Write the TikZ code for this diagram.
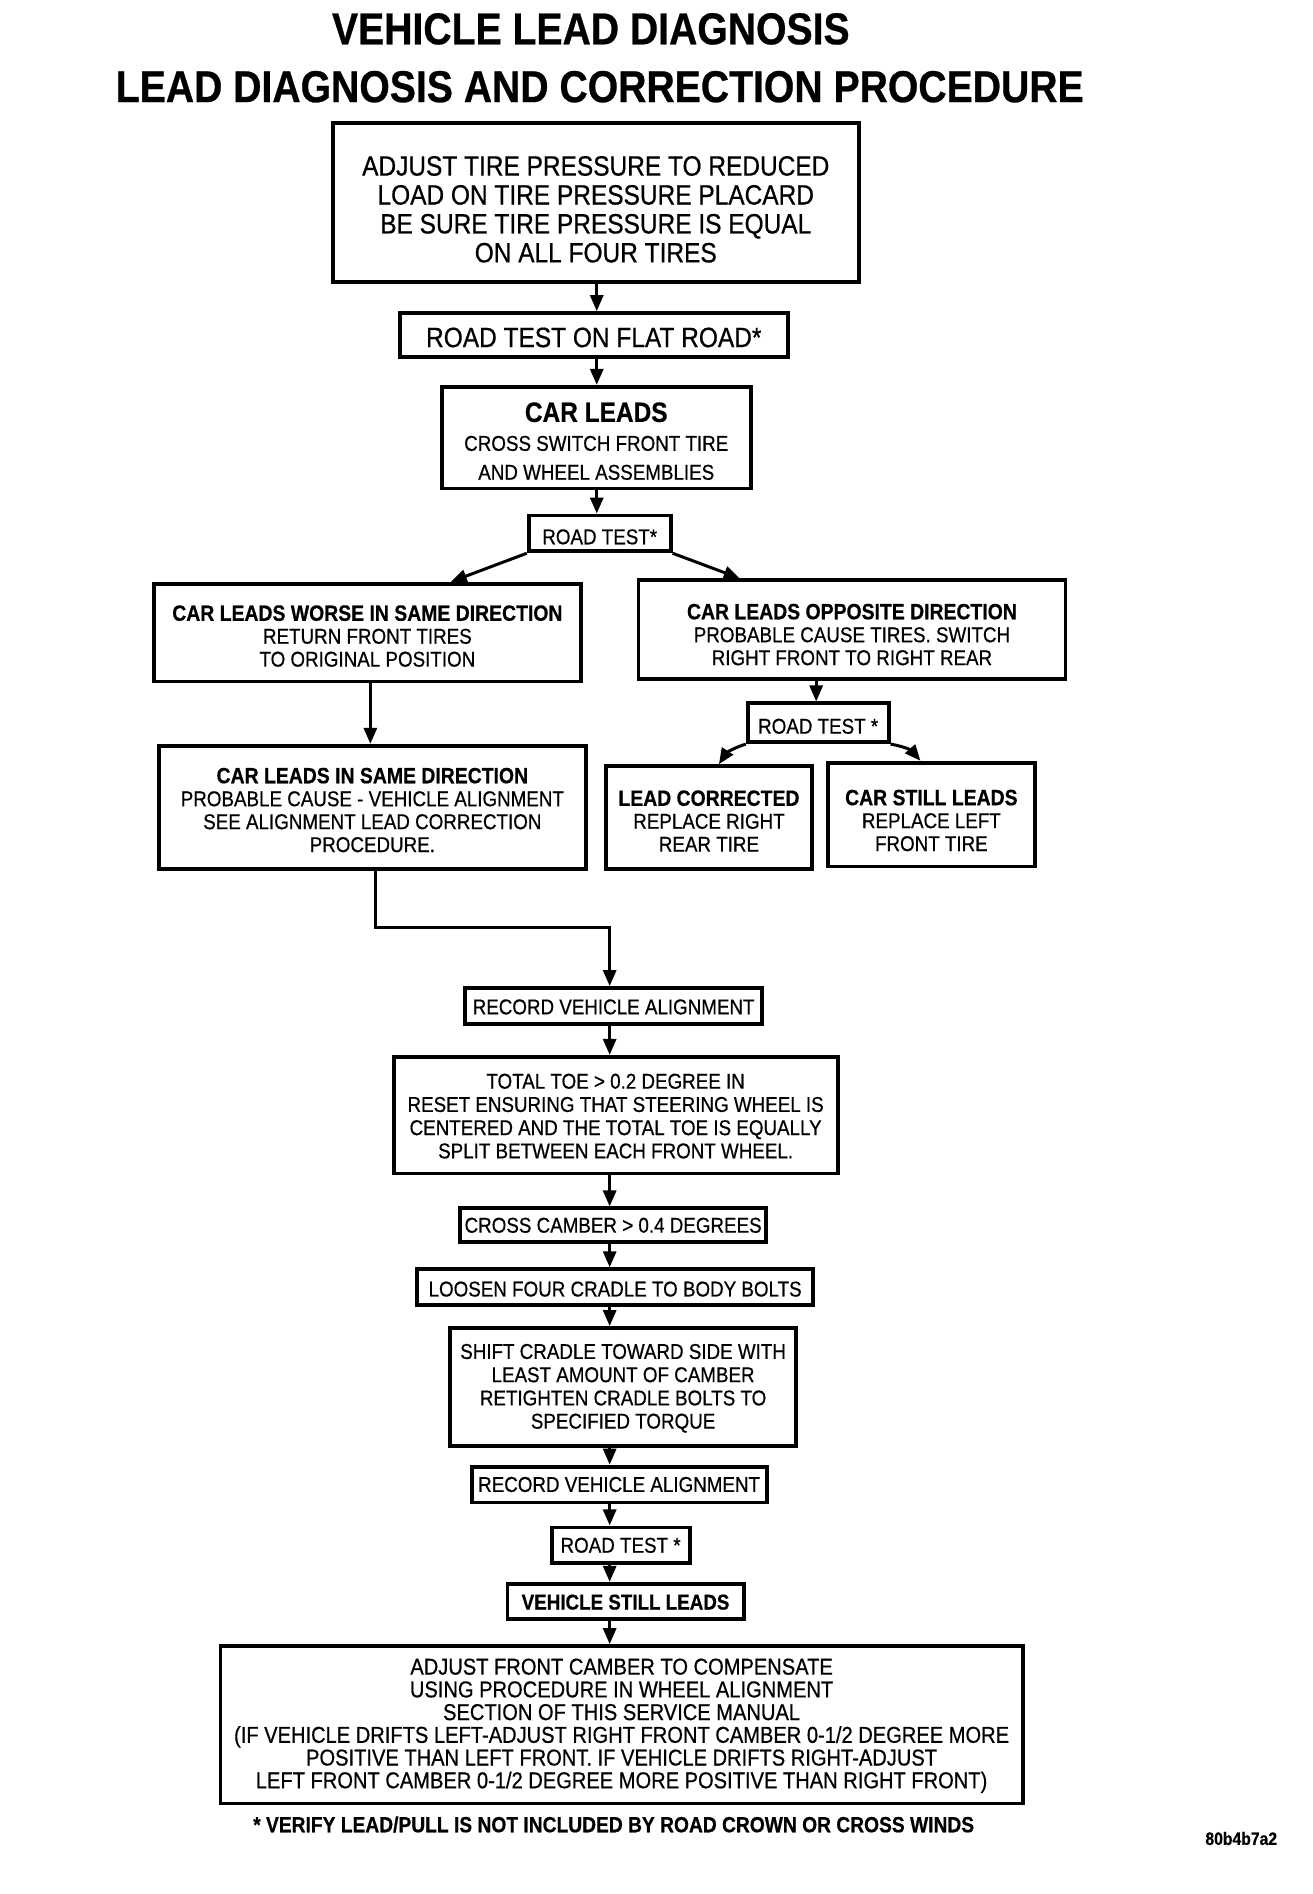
\documentclass[tikz,border=0pt]{standalone}
\usepackage{fontspec}
\setmainfont{Liberation Sans}[FakeStretch=0.88,
  UprightFeatures={FakeBold=0.6}, BoldFeatures={FakeBold=0.6}]
\usetikzlibrary{arrows.meta}
\newcommand\bl[1]{{\fontsize{22.2}{23}\selectfont\bfseries #1}}
\newcommand\flowbox[7]{%
  \node[box, minimum width=#3pt, minimum height=#4pt] (#1) at (#2) {};
  \node[boxtxt, #5] (#1t) at ([yshift=-#6pt]#1.center) {#7};}
\begin{document}
\begin{tikzpicture}[x=1pt,y=-1pt,xscale=0.993,yscale=0.997,transform shape,
  box/.style={draw, line width=3.8pt, inner sep=0pt},
  boxtxt/.style={inner sep=0pt, align=center, font=\fontsize{21.5}{23}\selectfont},
  bigtxt/.style={font=\fontsize{28}{29}\selectfont},
  arr/.style={line width=3pt, -{Triangle[length=16pt,width=13pt]}},
  ttl/.style={inner sep=0pt, font=\fontsize{44.8}{48}\selectfont\bfseries}]
\useasboundingbox[fill=white] (0,0) rectangle (1321.25,1899.7);

\node[ttl] (t1) at (595,29) {VEHICLE LEAD DIAGNOSIS};
\node[ttl] (t2) at (604,87) {LEAD DIAGNOSIS AND CORRECTION PROCEDURE};

\flowbox{b1}{600,203}{530}{159}{bigtxt}{7}
  {ADJUST TIRE PRESSURE TO REDUCED\\LOAD ON TIRE PRESSURE PLACARD\\BE SURE TIRE PRESSURE IS EQUAL\\ON ALL FOUR TIRES}
\flowbox{b2}{598,336}{391}{44}{bigtxt}{2.5}
  {ROAD TEST ON FLAT ROAD*}
\flowbox{b3}{600.5,439}{311}{102}{font=\fontsize{21.5}{29}\selectfont}{3.5}
  {{\fontsize{28}{29}\selectfont\bfseries CAR LEADS}\\CROSS SWITCH FRONT TIRE\\AND WHEEL ASSEMBLIES}
\flowbox{b4}{604,535}{143}{36}{}{3.5}
  {ROAD TEST*}

\flowbox{b5}{370,634.5}{430}{98}{}{3.5}
  {\bl{CAR LEADS WORSE IN SAME DIRECTION}\\RETURN FRONT TIRES\\TO ORIGINAL POSITION}
\flowbox{b6}{858,631.5}{430}{99}{}{5}
  {\bl{CAR LEADS OPPOSITE DIRECTION}\\PROBABLE CAUSE TIRES. SWITCH\\RIGHT FRONT TO RIGHT REAR}
\flowbox{b7}{824,725}{142}{39}{}{3.5}
  {ROAD TEST *}
\flowbox{b8}{714,820}{208}{103}{}{3.5}
  {\bl{LEAD CORRECTED}\\REPLACE RIGHT\\REAR TIRE}
\flowbox{b9}{938,817}{208}{104}{}{6}
  {\bl{CAR STILL LEADS}\\REPLACE LEFT\\FRONT TIRE}
\flowbox{b10}{375,810}{430}{124}{}{2.5}
  {\bl{CAR LEADS IN SAME DIRECTION}\\PROBABLE CAUSE - VEHICLE ALIGNMENT\\SEE ALIGNMENT LEAD CORRECTION\\PROCEDURE.}

\flowbox{b11}{618,1009}{299}{36}{}{1}
  {RECORD VEHICLE ALIGNMENT}
\flowbox{b12}{620,1118.5}{447}{117}{font=\fontsize{21.5}{23.3}\selectfont}{1}
  {TOTAL TOE > 0.2 DEGREE IN\\RESET ENSURING THAT STEERING WHEEL IS\\CENTERED AND THE TOTAL TOE IS EQUALLY\\SPLIT BETWEEN EACH FRONT WHEEL.}
\flowbox{b13}{617.5,1229}{308}{34}{}{0}
  {CROSS CAMBER > 0.4 DEGREES}
\flowbox{b14}{619.5,1291}{399}{36}{}{2}
  {LOOSEN FOUR CRADLE TO BODY BOLTS}
\flowbox{b15}{627.5,1391}{349}{118}{font=\fontsize{21.5}{23.3}\selectfont}{1.5}
  {SHIFT CRADLE TOWARD SIDE WITH\\LEAST AMOUNT OF CAMBER\\RETIGHTEN CRADLE BOLTS TO\\SPECIFIED TORQUE}
\flowbox{b16}{623.5,1489}{297}{36}{}{0}
  {RECORD VEHICLE ALIGNMENT}
\flowbox{b17}{625,1550}{139}{36}{}{0}
  {ROAD TEST *}
\flowbox{b18}{630,1606}{238}{35}{}{1}
  {\textbf{VEHICLE STILL LEADS}}
\flowbox{b19}{626,1730}{808}{158}{font=\fontsize{23}{22.8}\selectfont}{1}
  {ADJUST FRONT CAMBER TO COMPENSATE\\USING PROCEDURE IN WHEEL ALIGNMENT\\SECTION OF THIS SERVICE MANUAL\\(IF VEHICLE DRIFTS LEFT-ADJUST RIGHT FRONT CAMBER 0-1/2 DEGREE MORE\\POSITIVE THAN LEFT FRONT. IF VEHICLE DRIFTS RIGHT-ADJUST\\LEFT FRONT CAMBER 0-1/2 DEGREE MORE POSITIVE THAN RIGHT FRONT)}

\node[inner sep=0pt,font=\fontsize{22}{23}\selectfont\bfseries] (fn) at (618,1830)
  {* VERIFY LEAD/PULL IS NOT INCLUDED BY ROAD CROWN OR CROSS WINDS};
\node[inner sep=0pt,font=\fontsize{18}{20}\selectfont\bfseries] (id) at (1250,1844)
  {80b4b7a2};

% connector columns
\coordinate (xT) at (601,0);
\coordinate (xL) at (454,0);
\coordinate (xR) at (745,0);
\coordinate (xA) at (373,0);
\coordinate (xC) at (822,0);
\coordinate (xRL) at (724,0);
\coordinate (xRR) at (927,0);
\coordinate (xB) at (614,0);
\coordinate (bend) at (378,930);

\draw[arr] (b1.south -| xT) -- (b2.north -| xT);
\draw[arr] (b2.south -| xT) -- (b3.north -| xT);
\draw[arr] (b3.south -| xT) -- (b4.north -| xT);
\draw[arr] (b4.south west) -- (b5.north -| xL);
\draw[arr] (b4.south east) -- (b6.north -| xR);
\draw[arr] (b5.south -| xA) -- (b10.north -| xA);
\draw[arr] (b6.south -| xC) -- (b7.north -| xC);
\draw[arr] (b7.south west) to[bend right=20] (b8.north -| xRL);
\draw[arr] (b7.south east) to[bend left=20] (b9.north -| xRR);
\draw[arr] (b10.south -| bend) -- (bend) -| (b11.north -| xB);
\draw[arr] (b11.south -| xB) -- (b12.north -| xB);
\draw[arr] (b12.south -| xB) -- (b13.north -| xB);
\draw[arr] (b13.south -| xB) -- (b14.north -| xB);
\draw[arr] (b14.south -| xB) -- (b15.north -| xB);
\draw[arr] (b15.south -| xB) -- (b16.north -| xB);
\draw[arr] (b16.south -| xB) -- (b17.north -| xB);
\draw[arr] (b17.south -| xB) -- (b18.north -| xB);
\draw[arr] (b18.south -| xB) -- (b19.north -| xB);
\end{tikzpicture}
\end{document}
